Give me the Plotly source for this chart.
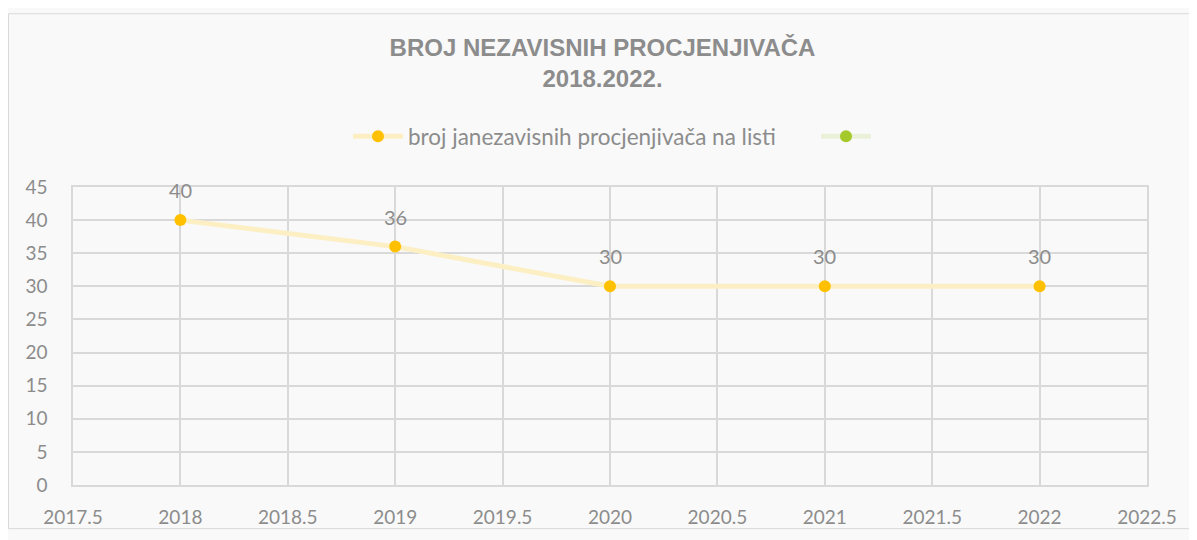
import plotly.graph_objects as go

# data
years = [2018, 2019, 2020, 2021, 2022]
counts = [40, 36, 30, 30, 30]
series_name = "broj janezavisnih procjenjivača na listi"
title_text = "BROJ NEZAVISNIH PROCJENJIVAČA<br>2018.2022."

x_ticks = [2017.5, 2018, 2018.5, 2019, 2019.5, 2020, 2020.5, 2021, 2021.5, 2022, 2022.5]
y_ticks = [0, 5, 10, 15, 20, 25, 30, 35, 40, 45]

grey = "#8c8c8c"
grid = "#d9d9d9"

W, H = 1189, 532
ML, MR, MT, MB = 65, 50, 179, 46
PW, PH = W - ML - MR, H - MT - MB

fig = go.Figure()

fig.add_trace(go.Scatter(
    x=years, y=counts, name=series_name, mode="lines+markers",
    line=dict(color="#fdefc4", width=5),
    marker=dict(color="#ffc000", size=12),
    legend="legend",
))
# empty second series (only shows in legend)
fig.add_trace(go.Scatter(
    x=[None], y=[None], name="", mode="lines+markers",
    line=dict(color="#ebf1d9", width=5),
    marker=dict(color="#a5c82a", size=12),
    legend="legend2",
))

# data labels above points
for xv, yv in zip(years, counts):
    fig.add_annotation(x=xv, y=yv, text=str(yv), showarrow=False, yshift=30,
                       font=dict(family="Lato", size=20, color=grey))

leg_y = 1 + (MT - 127) / PH
legend_common = dict(orientation="h", yanchor="middle", y=leg_y, xanchor="left",
                     font=dict(family="Lato", size=22.5, color=grey),
                     bgcolor="rgba(0,0,0,0)", itemwidth=50)

fig.update_layout(
    width=W, height=H,
    margin=dict(l=ML, r=MR, t=MT, b=MB),
    paper_bgcolor="#f9f9f9", plot_bgcolor="rgba(0,0,0,0)",
    title=dict(text=title_text, x=0.5, xanchor="center", y=1 - 48 / H, yanchor="top",
               pad=dict(t=0), yref="container",
               font=dict(family="Liberation Sans", size=24, color=grey, weight="bold")),
    legend=dict(x=(340 - ML) / PW, **legend_common),
    legend2=dict(x=(808 - ML) / PW, **legend_common),
    font=dict(family="Lato", color=grey),
    showlegend=True,
)

fig.update_xaxes(range=[2017.5, 2022.5], tickvals=x_ticks, ticktext=[str(v) for v in x_ticks],
                 showgrid=True, gridcolor=grid, gridwidth=1.5, zeroline=False,
                 showline=True, linecolor=grid, linewidth=1.5, mirror=True,
                 tickfont=dict(family="Lato", size=19, color=grey), ticklabelstandoff=14)
fig.update_yaxes(range=[0, 45], tickvals=y_ticks,
                 showgrid=True, gridcolor=grid, gridwidth=1.5, zeroline=False,
                 showline=True, linecolor=grid, linewidth=1.5, mirror=True,
                 tickfont=dict(family="Lato", size=19, color=grey), ticklabelstandoff=20)

# outer chart border
fig.add_shape(type="rect", xref="paper", yref="paper",
              x0=-(ML - 0.5) / PW, x1=1 + (MR - 1) / PW,
              y0=-(MB - 1) / PH, y1=1 + (MT - 0.5) / PH,
              line=dict(color="#d9d9d9", width=1), layer="below")

fig.write_html("out.html")
